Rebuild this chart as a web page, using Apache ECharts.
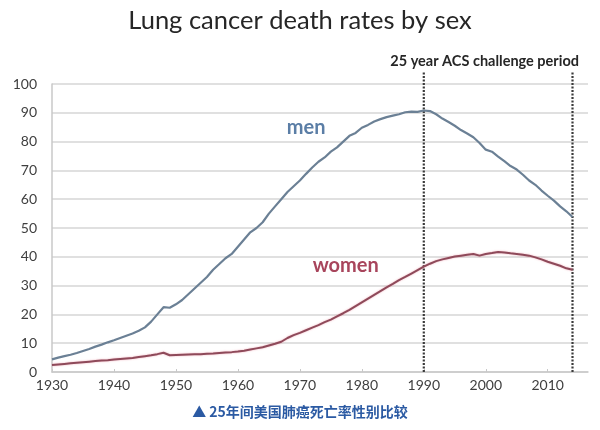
<!DOCTYPE html>
<html>
<head>
<meta charset="utf-8">
<script src="https://cdn.jsdelivr.net/npm/echarts@6/dist/echarts.min.js"></script>
<style>
html,body{margin:0;padding:0;background:#fff;}
#main{width:600px;height:430px;}
</style>
</head>
<body>
<div id="main"></div>
<script>
var years = [];
for (var y = 1930; y <= 2014; y++) years.push(y);

var menRates = [4.4,5.0,5.5,6.0,6.6,7.3,8.0,8.8,9.5,10.3,
11.0,11.8,12.6,13.4,14.3,15.5,17.5,20.0,22.5,22.3,
23.5,25.0,27.0,29.0,31.0,33.0,35.5,37.5,39.5,41.0,
43.5,46.0,48.5,50.0,52.0,55.0,57.5,60.0,62.5,64.5,
66.5,68.8,71.0,73.0,74.5,76.5,78.0,80.0,82.0,83.0,
84.8,85.8,87.0,87.8,88.5,89.0,89.5,90.2,90.4,90.3,
90.8,90.6,89.5,88.0,86.8,85.5,84.0,82.8,81.5,79.5,
77.2,76.5,74.8,73.2,71.5,70.3,68.5,66.5,65.0,63.0,
61.2,59.5,57.5,55.8,53.8];

var womenRates = [2.4,2.6,2.8,3.0,3.2,3.4,3.6,3.8,4.0,4.1,
4.3,4.5,4.7,4.9,5.2,5.5,5.8,6.2,6.7,5.8,
5.9,6.0,6.1,6.2,6.2,6.3,6.4,6.6,6.8,6.9,
7.1,7.4,7.8,8.2,8.6,9.2,9.8,10.5,11.8,12.8,
13.6,14.5,15.4,16.3,17.3,18.2,19.3,20.4,21.6,22.9,
24.2,25.5,26.8,28.1,29.4,30.6,31.9,33.0,34.2,35.4,
36.6,37.6,38.5,39.1,39.6,40.1,40.4,40.7,41.0,40.4,
41.0,41.3,41.7,41.5,41.2,41.0,40.7,40.4,39.8,39.1,
38.3,37.6,36.9,36.0,35.5];

var periodYears = [1990, 2014];
var periodTop = 104;
var menLabelPos = [1971, 85];
var womenLabelPos = [1977.4, 36.8];

var titleText = 'Lung cancer death rates by sex';
var periodText = '25 year ACS challenge period';
var captionText = '▲ 25年间美国肺癌死亡率性别比较';

function pairs(xs, vs){ return xs.map(function(x,i){ return [x, vs[i]]; }); }

var chart = echarts.init(document.getElementById('main'), null, {renderer:'canvas'});

var periodSeries = periodYears.map(function(py){
  return {
    type:'line', data:[[py,0],[py,periodTop]], clip:false, symbol:'none', silent:true,
    lineStyle:{color:'#3a3a3a', width:2.2, type:[2,1.5]}, z:1
  };
});

chart.setOption({
  animation:false,
  backgroundColor:'#ffffff',
  title:[
    {text:titleText, left:'center', top:3,
     textStyle:{fontFamily:'Lato', fontSize:25.5, fontWeight:'normal', color:'#262626'}},
    {text:periodText, right:16, top:49,
     textStyle:{fontFamily:'Lato', fontSize:14.5, fontWeight:'bold', color:'#262626'}},
    {text:captionText, left:'center', top:400,
     textStyle:{fontFamily:'Noto Sans CJK SC', fontSize:14, fontWeight:'bold', color:'#2b5aa3'}}
  ],
  grid:{left:52, right:12, top:84, bottom:58, containLabel:false},
  xAxis:{
    type:'value', min:1930, max:2016.5, interval:10,
    axisLine:{show:true, lineStyle:{color:'#c8c8c8', width:1.5}},
    axisTick:{show:true, inside:true, length:3, lineStyle:{color:'#c8c8c8'}},
    axisLabel:{showMaxLabel:false, color:'#3f3f3f', fontFamily:'Lato', fontSize:14, margin:6,
      formatter:function(v){ return String(v); }},
    splitLine:{show:false}
  },
  yAxis:{
    type:'value', min:0, max:100, interval:10,
    axisLine:{show:true, lineStyle:{color:'#c8c8c8', width:1.5}},
    axisTick:{show:false},
    axisLabel:{color:'#3f3f3f', fontFamily:'Lato', fontSize:14, margin:15},
    splitLine:{show:true, lineStyle:{color:'#d6d6d6', width:1.5}}
  },
  series:[
    {name:'men', type:'line', data:pairs(years, menRates), symbol:'none', smooth:false,
     lineStyle:{color:'#6b8095', width:2.2}, z:3,
     markPoint:{symbol:'circle', symbolSize:0, silent:true,
       data:[{coord:menLabelPos, value:'men'}],
       label:{show:true, formatter:'men', color:'#5b7ea6', fontFamily:'Lato', fontSize:20, fontWeight:'bold'}}},
    {name:'women', type:'line', data:pairs(years, womenRates), symbol:'none', smooth:false,
     lineStyle:{color:'#8e4a5a', width:2, shadowColor:'rgba(230,120,140,0.6)', shadowBlur:2}, z:3,
     markPoint:{symbol:'circle', symbolSize:0, silent:true,
       data:[{coord:womenLabelPos, value:'women'}],
       label:{show:true, formatter:'women', color:'#a8455c', fontFamily:'Lato', fontSize:20, fontWeight:'bold'}}}
  ].concat(periodSeries)
});
</script>
</body>
</html>
